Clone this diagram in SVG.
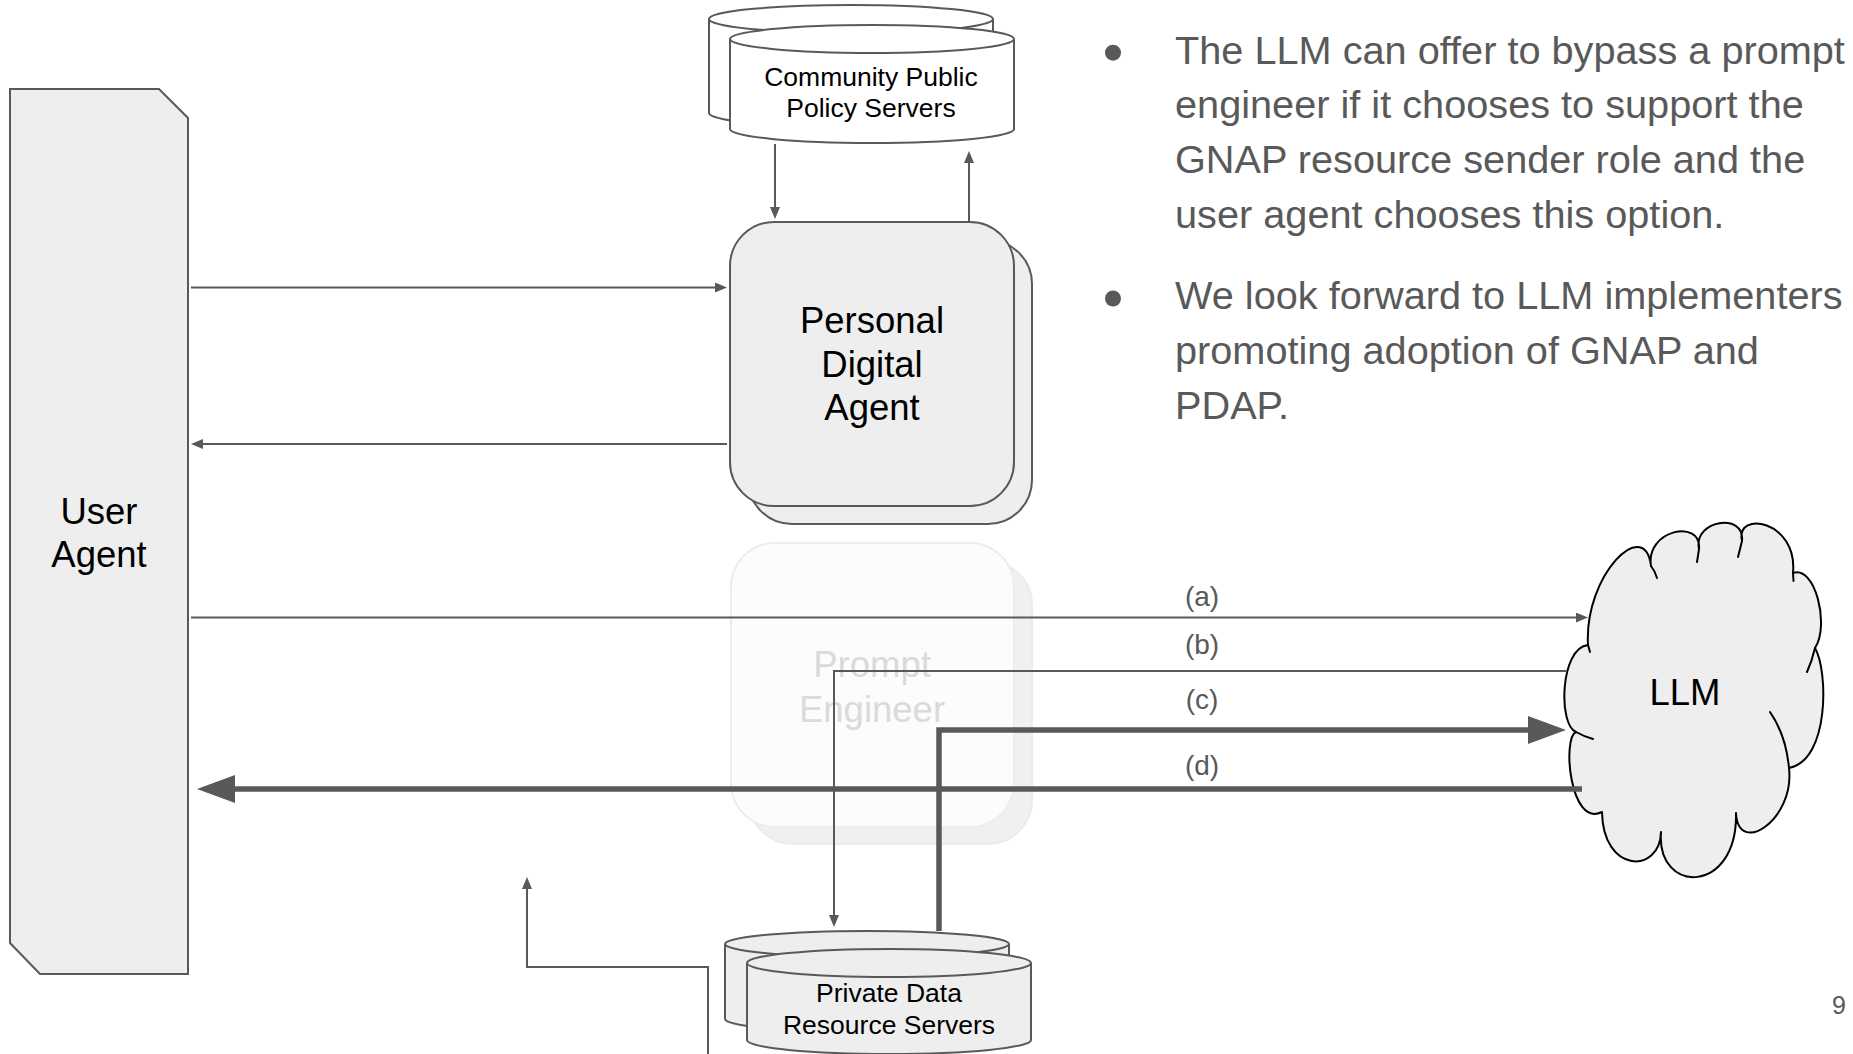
<svg xmlns="http://www.w3.org/2000/svg" width="1853" height="1054" viewBox="0 0 1853 1054">
  <defs>
    <style>
      text { font-family: "Liberation Sans", Arial, sans-serif; }
      .node { fill: #eeeeee; stroke: #595959; stroke-width: 2; }
      .db-white { fill: #ffffff; stroke: #595959; stroke-width: 2; }
      .ghost-back { fill: #f0f0f0; stroke: #ebebeb; stroke-width: 2; }
      .ghost-front { fill: #fcfcfc; stroke: #ededed; stroke-width: 2; }
      .label-big { font-size: 36.5px; fill: #000000; text-anchor: middle; }
      .label-db { font-size: 26.5px; fill: #000000; text-anchor: middle; }
      .ghost-text { font-size: 36.5px; fill: #dadada; text-anchor: middle; }
      .edge-label { font-size: 28px; fill: #595959; text-anchor: middle; }
      .bullet { font-size: 39.7px; fill: #595959; }
      .thin { fill: none; stroke: #595959; stroke-width: 2; }
      .thick { fill: none; stroke: #595959; stroke-width: 5.5; stroke-linejoin: miter; }
      .cloud { fill: #eeeeee; stroke: #000000; stroke-width: 2; stroke-linejoin: round; }
      .cloud-inner { fill: none; stroke: #000000; stroke-width: 2; stroke-linecap: round; }
    </style>
    <marker id="arrow" markerUnits="userSpaceOnUse" markerWidth="13" markerHeight="11" refX="0" refY="5" orient="auto">
      <path d="M0,0 L12,5 L0,10 Z" fill="#595959"/>
    </marker>
    <marker id="arrow-big" markerUnits="userSpaceOnUse" markerWidth="40" markerHeight="30" refX="0" refY="14" orient="auto">
      <path d="M0,0 L38,14 L0,28 Z" fill="#595959"/>
    </marker>
  </defs>

  <!-- Personal Digital Agent (stacked rounded squares) -->
  <g id="personal-digital-agent">
    <rect class="node" x="748" y="240" width="284" height="284" rx="44"/>
    <rect class="node" x="730" y="222" width="284" height="284" rx="44"/>
    <text class="label-big" x="872" y="333">Personal</text>
    <text class="label-big" x="872" y="377">Digital</text>
    <text class="label-big" x="872" y="420">Agent</text>
  </g>

  <!-- Prompt Engineer (faded, bypassed) -->
  <g id="prompt-engineer">
    <rect class="ghost-back" x="749" y="561" width="283" height="283" rx="44"/>
    <rect class="ghost-front" x="731" y="543" width="283" height="284" rx="44"/>
    <text class="ghost-text" x="872" y="677">Prompt</text>
    <text class="ghost-text" x="872" y="722">Engineer</text>
  </g>

  <!-- Community Public Policy Servers (stacked cylinders) -->
  <g id="community-policy-servers">
    <path class="db-white" d="M709,19 A142,14 0 0 1 993,19 L993,113 A142,14 0 0 1 709,113 Z"/>
    <path class="db-white" d="M709,19 A142,14 0 0 0 993,19"/>
    <path class="db-white" d="M730,39 A142,14 0 0 1 1014,39 L1014,129 A142,14 0 0 1 730,129 Z"/>
    <path class="db-white" d="M730,39 A142,14 0 0 0 1014,39"/>
    <text class="label-db" x="871" y="85.5">Community Public</text>
    <text class="label-db" x="871" y="116.5">Policy Servers</text>
  </g>

  <!-- Private Data Resource Servers (stacked cylinders) -->
  <g id="private-data-servers">
    <path class="node" d="M725,944 A142,13 0 0 1 1009,944 L1009,1019 A142,13 0 0 1 725,1019 Z"/>
    <path class="node" d="M725,944 A142,13 0 0 0 1009,944"/>
    <path class="node" d="M747,963 A142,14 0 0 1 1031,963 L1031,1040 A142,14 0 0 1 747,1040 Z"/>
    <path class="node" d="M747,963 A142,14 0 0 0 1031,963"/>
    <text class="label-db" x="889" y="1002">Private Data</text>
    <text class="label-db" x="889" y="1034">Resource Servers</text>
  </g>

  <!-- User Agent (chamfered panel) -->
  <g id="user-agent">
    <polygon class="node" points="10,89 159,89 188,118 188,974 40,974 10,943"/>
    <text class="label-big" x="99" y="523.5">User</text>
    <text class="label-big" x="99" y="567">Agent</text>
  </g>

  <!-- LLM (cloud) -->
  <g id="llm">
    <path class="cloud" d="M1588,645
      C1584,575 1645,515 1651,566
      C1645,530 1702,518 1699,549
      C1693,520 1745,512 1742,541
      C1735,510 1798,520 1793,573
      C1815,565 1830,625 1815,648
      C1828,670 1830,760 1789,768
      C1795,820 1738,857 1736,813
      C1738,895 1656,895 1661,832
      C1660,874 1603,874 1602,812
      C1570,828 1562,738 1576,732
      C1558,725 1560,648 1588,645 Z"/>
    <path class="cloud-inner" d="M1651,566 Q1655,571 1657,578
      M1699,549 Q1698,556 1697,562
      M1742,541 Q1740,549 1738,557
      M1793,573 L1793.5,581
      M1815,648 Q1812,661 1807,672
      M1770,712 Q1786,735 1789,768
      M1576,732 Q1585,737 1593,739
      M1590,652 L1588,645"/>
    <text class="label-big" x="1685" y="705">LLM</text>
  </g>

  <!-- Connectors -->
  <g id="connectors">
    <path class="thin" d="M191,287.5 H715" marker-end="url(#arrow)"/>
    <path class="thin" d="M727,444 H203" marker-end="url(#arrow)"/>
    <path class="thin" d="M775,144 V207" marker-end="url(#arrow)"/>
    <path class="thin" d="M969,222 V163" marker-end="url(#arrow)"/>
    <path class="thin" d="M191,617.5 H1576" marker-end="url(#arrow)"/>
    <path class="thin" d="M1567,671 H834 V915" marker-end="url(#arrow)"/>
    <path class="thin" d="M708,1054 V967 H527 V889" marker-end="url(#arrow)"/>
    <path class="thick" d="M939,931 V730 H1528" marker-end="url(#arrow-big)"/>
    <path class="thick" d="M1582,789 H235" marker-end="url(#arrow-big)"/>
    <text class="edge-label" x="1202" y="606">(a)</text>
    <text class="edge-label" x="1202" y="654">(b)</text>
    <text class="edge-label" x="1202" y="709">(c)</text>
    <text class="edge-label" x="1202" y="775">(d)</text>
  </g>

  <!-- Notes -->
  <g id="notes">
    <circle cx="1113" cy="52.7" r="8" fill="#595959"/>
    <circle cx="1113" cy="298.5" r="8" fill="#595959"/>
    <text class="bullet" x="1175" y="63.5">The LLM can offer to bypass a prompt</text>
    <text class="bullet" x="1175" y="118.2">engineer if it chooses to support the</text>
    <text class="bullet" x="1175" y="172.9">GNAP resource sender role and the</text>
    <text class="bullet" x="1175" y="227.6">user agent chooses this option.</text>
    <text class="bullet" x="1175" y="309.3">We look forward to LLM implementers</text>
    <text class="bullet" x="1175" y="364">promoting adoption of GNAP and</text>
    <text class="bullet" x="1175" y="418.7">PDAP.</text>
  </g>

  <text x="1839" y="1014" font-size="25" fill="#595959" text-anchor="middle">9</text>
</svg>
